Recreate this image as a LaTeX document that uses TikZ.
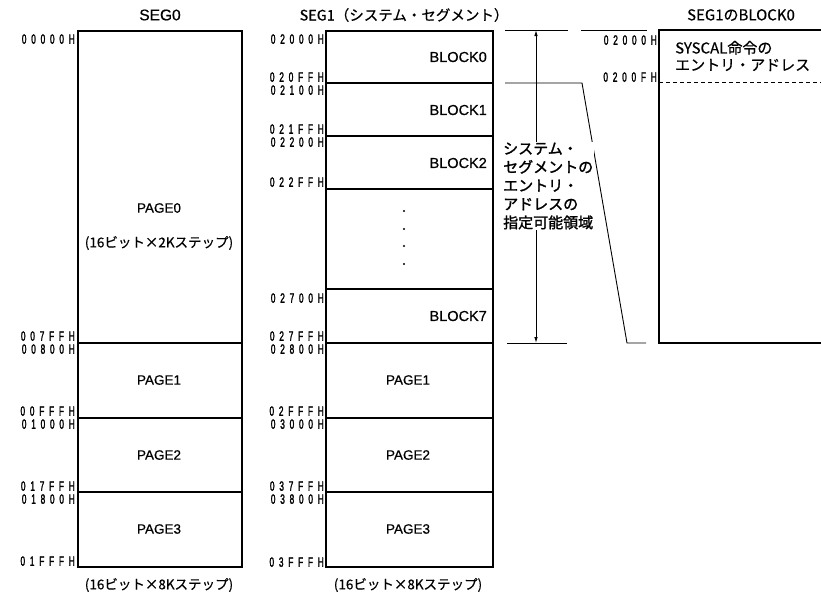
\documentclass[tikz,border=0pt]{standalone}
\usepackage{fontspec}
\setmainfont[FakeBold=0.6]{Liberation Sans}
\newfontfamily\jp[FakeBold=0.5]{Noto Sans CJK JP}
\newfontfamily\jpb[FakeBold=1.5]{Noto Sans CJK JP}
\newfontfamily\addrfont[FakeStretch=0.62,LetterSpace=35,FakeBold=1.6]{Liberation Sans}
\usetikzlibrary{arrows.meta}
\tikzset{
  box/.style={line width=1.8pt},
  divline/.style={line width=1.2pt},
  thin/.style={line width=0.9pt},
  addr/.style={anchor=east, inner sep=0pt, text height=9.5pt, text depth=0pt, font=\addrfont\fontsize{13.5}{13.5}\selectfont},
  lbl/.style={inner sep=0pt, font=\fontsize{13.5}{14}\selectfont},
  blbl/.style={inner sep=0pt, anchor=east, font=\fontsize{14.5}{15}\selectfont},
  jlbl/.style={inner sep=0pt, font=\jp\fontsize{13.5}{14}\selectfont},
  seg/.style={draw, box, anchor=north west, inner sep=0pt, minimum width=#1}
}
\begin{document}
\begin{tikzpicture}[x=1pt,y=-1pt]
\useasboundingbox (0,0) rectangle (821,595);
% SEG0
\node[seg=164pt, minimum height=536pt] (seg0) at (77,30) {};
\draw[box] (77,343) -- (241,343);
\draw[divline] (77,418) -- (241,418);
\draw[divline] (77,492) -- (241,492);
\node[lbl, font=\fontsize{15.5}{16}\selectfont] (t0) at (160,15) {SEG0};
\node[lbl] (p00) at (159,208) {PAGE0};
\node[jlbl] (p0s) at (159,243) {(16ビット×2Kステップ)};
\node[lbl] (p01) at (159,380) {PAGE1};
\node[lbl] (p02) at (159,455) {PAGE2};
\node[lbl] (p03) at (159,529) {PAGE3};
\node[jlbl] (b0) at (159,585) {(16ビット×8Kステップ)};
\node[addr] (a00) at (75,39) {00000H};
\node[addr] (a01) at (75,336) {007FFH};
\node[addr] (a02) at (75,349) {00800H};
\node[addr] (a03) at (75,411) {00FFFH};
\node[addr] (a04) at (75,424) {01000H};
\node[addr] (a05) at (75,486) {017FFH};
\node[addr] (a06) at (75,499) {01800H};
\node[addr] (a07) at (75,561) {01FFFH};
% SEG1
\node[seg=167pt, minimum height=536pt] (seg1) at (325,30) {};
\draw[divline] (325,83) -- (492,83);
\draw[divline] (325,136) -- (492,136);
\draw[divline] (325,189) -- (492,189);
\draw[divline] (325,289) -- (492,289);
\draw[box] (325,343) -- (492,343);
\draw[divline] (325,418) -- (492,418);
\draw[divline] (325,492) -- (492,492);
\node[jlbl, font=\jp\fontsize{14.5}{15}\selectfont] (t1) at (404,15) {SEG1（システム・セグメント）};
\node[blbl] (bl0) at (487,57) {BLOCK0};
\node[blbl] (bl1) at (487,110) {BLOCK1};
\node[blbl] (bl2) at (487,163) {BLOCK2};
\node[blbl] (bl7) at (487,316) {BLOCK7};
\foreach \yy in {211,229,246,264} \fill (404,\yy) circle (1.2pt);
\node[lbl] (p11) at (408,380) {PAGE1};
\node[lbl] (p12) at (408,455) {PAGE2};
\node[lbl] (p13) at (408,529) {PAGE3};
\node[jlbl] (b1) at (408,585) {(16ビット×8Kステップ)};
\node[addr] (c00) at (324,39) {02000H};
\node[addr] (c01) at (324,77) {020FFH};
\node[addr] (c02) at (324,90) {02100H};
\node[addr] (c03) at (324,129) {021FFH};
\node[addr] (c04) at (324,142) {02200H};
\node[addr] (c05) at (324,182) {022FFH};
\node[addr] (c06) at (324,298) {02700H};
\node[addr] (c07) at (324,336) {027FFH};
\node[addr] (c08) at (324,349) {02800H};
\node[addr] (c09) at (324,411) {02FFFH};
\node[addr] (c10) at (324,424) {03000H};
\node[addr] (c11) at (324,486) {037FFH};
\node[addr] (c12) at (324,499) {03800H};
\node[addr] (c13) at (324,562) {03FFFH};
% range arrow
\draw[thin] (505,30) -- (568,30);
\draw[thin] (581,30) -- (647,30);
\draw[thin] (505,83) -- (582,83) -- (627,343) -- (646,343);
\draw[thin] (507,343) -- (567,343);
\coordinate (at) at (536,30);
\coordinate (ab) at (536,343);
\draw[thin, {Latex[length=6pt,width=3.5pt]}-{Latex[length=6pt,width=3.5pt]}] (at) -- (ab);
\node[fill=white, anchor=west, inner sep=1pt, align=left, font=\jpb\fontsize{15}{18.5}\selectfont] (rng) at (502,186)
  {システム・\\セグメントの\\エントリ・\\アドレスの\\指定可能領域};
% SEG1 BLOCK0 detail
\draw[box] (821,30) -- (659,30) -- (659,343) -- (821,343);
\draw[thin, dash pattern=on 4pt off 3pt] (659,82) -- (821,82);
\node[jlbl, font=\jp\fontsize{15}{15}\selectfont] (t2) at (741,15) {SEG1のBLOCK0};
\node[jlbl, anchor=west, align=left, font=\jp\fontsize{15}{17}\selectfont] (sys) at (675,56) {SYSCAL命令の\\エントリ・アドレス};
\node[addr] (d00) at (657,40) {02000H};
\node[addr] (d01) at (657,77) {0200FH};
\end{tikzpicture}
\end{document}
